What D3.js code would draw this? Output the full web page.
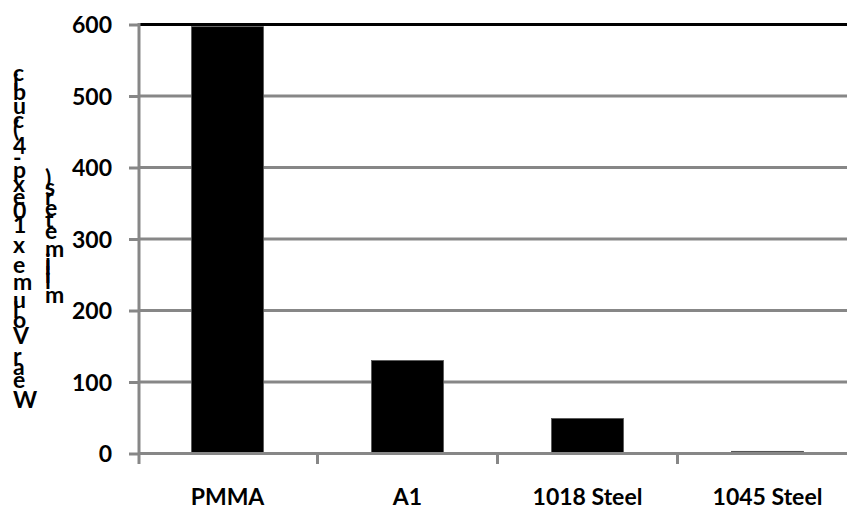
<!DOCTYPE html>
<html>
<head>
<meta charset="utf-8">
<script src="https://cdn.jsdelivr.net/npm/d3@7"></script>
<style>
  html, body { margin: 0; padding: 0; background: #fff; }
  svg { display: block; }
  text { font-family: Lato, "Open Sans", sans-serif; font-weight: bold; fill: #000; }
</style>
</head>
<body>
<svg id="chart" width="847" height="510"></svg>
<script>
// ---- data ----
const categories = ["PMMA", "A1", "1018 Steel", "1045 Steel"];
const wearVolume = [597, 130, 49, 3];
const yTicks = [0, 100, 200, 300, 400, 500, 600];
const yLabelLines = ["Wear Volume x 10exp-4 (cubic", "millimeters)"];

// ---- layout ----
const W = 847, H = 510;
const plotLeft = 137.5, plotRight = 857.5, plotTop = 24.5, plotBottom = 453.5;
const grey = "#878787";

const svg = d3.select("#chart");

const x = d3.scaleBand()
  .domain(categories)
  .range([plotLeft, plotRight])
  .paddingInner(0.6)
  .paddingOuter(0.3);

const y = d3.scaleLinear()
  .domain([0, 600])
  .range([plotBottom, plotTop]);

// gridlines
svg.append("g")
  .selectAll("line")
  .data(yTicks.filter(t => t > 0))
  .join("line")
  .attr("x1", 139).attr("x2", W)
  .attr("y1", d => y(d)).attr("y2", d => y(d))
  .attr("stroke", d => d === 600 ? "#000" : grey)
  .attr("stroke-width", 3);

// bars
svg.append("g")
  .selectAll("rect")
  .data(categories.map((c, i) => ({ c, v: wearVolume[i] })))
  .join("rect")
  .attr("x", d => x(d.c))
  .attr("width", x.bandwidth())
  .attr("y", d => y(d.v))
  .attr("height", d => y(0) - y(d.v))
  .attr("fill", "#000")
  .attr("stroke", "#555")
  .attr("stroke-width", 0.8);

// y axis
const yAxis = d3.axisLeft(y).tickValues(yTicks).tickSize(10).tickPadding(16).tickFormat(d3.format("d"));
const gy = svg.append("g").attr("transform", "translate(139,0)").call(yAxis);
gy.select(".domain").remove();
gy.selectAll(".tick line").attr("stroke", grey).attr("stroke-width", 3);
gy.selectAll(".tick text")
  .attr("font-size", 23)
  .attr("font-family", "Lato, 'Open Sans', sans-serif")
  .attr("font-weight", "bold")
  .attr("fill", "#000")
  .attr("x", -27)
  .attr("dy", "0.36em");
svg.append("line")
  .attr("x1", 139).attr("x2", 139)
  .attr("y1", y(600) - 1.5).attr("y2", plotBottom + 10.5)
  .attr("stroke", grey).attr("stroke-width", 3);

// x axis
svg.append("line")
  .attr("x1", 139).attr("x2", W)
  .attr("y1", y(0)).attr("y2", y(0))
  .attr("stroke", grey).attr("stroke-width", 3);
const step = x.step();
const boundaries = d3.range(1, categories.length).map(i => plotLeft + i * step);
svg.append("g").selectAll("line")
  .data(boundaries)
  .join("line")
  .attr("x1", d => d).attr("x2", d => d)
  .attr("y1", y(0)).attr("y2", y(0) + 10.5)
  .attr("stroke", grey).attr("stroke-width", 3);

svg.append("g").selectAll("text")
  .data(categories)
  .join("text")
  .attr("x", d => x(d) + x.bandwidth() / 2)
  .attr("y", 505)
  .attr("text-anchor", "middle")
  .attr("font-size", 23)
  .text(d => d);

// y label: upright characters stacked bottom-to-top
const labelSize = 23;
const ctx = document.createElement("canvas").getContext("2d");
ctx.font = `bold ${labelSize}px Lato`;
function layout(str) {
  const chars = Array.from(str);
  let cum = 0;
  return chars.map(ch => {
    const w = ctx.measureText(ch).width;
    const o = { ch, c: cum + w / 2 };
    cum += w;
    return o;
  }).concat([{ total: cum }]);
}
const l1 = layout(yLabelLines[0]);
const l1chars = l1.slice(0, -1);
const k = (400.5 - 73) / (l1chars[l1chars.length - 1].c - l1chars[0].c);
const labelCenter = 241;
const colX = [13, 45];
yLabelLines.forEach((line, li) => {
  const lay = layout(line);
  const chars = lay.slice(0, -1), total = lay[lay.length - 1].total;
  const bottom = labelCenter + total * k / 2;
  svg.append("g").selectAll("text")
    .data(chars.filter(d => d.ch !== " "))
    .join("text")
    .attr("x", colX[li])
    .attr("y", d => bottom - d.c * k + labelSize * 0.3)
    .attr("font-size", labelSize)
    .text(d => d.ch);
});
</script>
</body>
</html>
